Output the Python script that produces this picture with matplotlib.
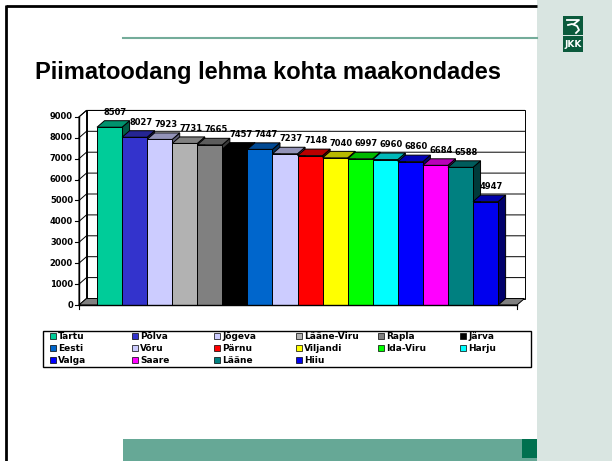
import matplotlib
matplotlib.use("Agg")
import matplotlib.pyplot as plt
from matplotlib.patches import Polygon, Rectangle
import matplotlib.colors as mcolors

# data
counties = ["Tartu", "Põlva", "Jõgeva", "Lääne-Viru", "Rapla", "Järva",
            "Eesti", "Võru", "Pärnu", "Viljandi", "Ida-Viru", "Harju",
            "Valga", "Saare", "Lääne", "Hiiu"]
milk_yield = [8507, 8027, 7923, 7731, 7665, 7457, 7447, 7237,
              7148, 7040, 6997, 6960, 6860, 6684, 6588, 4947]
bar_colors = ["#00CC99", "#3333CC", "#CCCCFF", "#B2B2B2", "#808080", "#000000",
              "#0066CC", "#CCCCFF", "#FF0000", "#FFFF00", "#00FF00", "#00FFFF",
              "#0000FF", "#FF00FF", "#008080", "#0000EE"]
y_ticks = [0, 1000, 2000, 3000, 4000, 5000, 6000, 7000, 8000, 9000]
title = "Piimatoodang lehma kohta maakondades"

W, H = 612, 461
fig = plt.figure(figsize=(W / 100, H / 100), dpi=100)

# slide background, pixel coordinates
bg = fig.add_axes([0, 0, 1, 1])
bg.set_xlim(0, W)
bg.set_ylim(H, 0)
bg.axis("off")

bg.add_patch(Rectangle((537, 0), W - 537, H, color="#D9E5E1", lw=0))
bg.plot([6, 537], [6, 6], color="black", lw=2.0, solid_capstyle="butt")
bg.plot([6, 6], [5, H], color="black", lw=2.0, solid_capstyle="butt")
bg.plot([123, 537], [38, 38], color="#74AC9A", lw=1.5)
bg.text(35, 73, title, fontsize=17, fontweight="bold",
        family="Liberation Sans", ha="left", va="center")
bg.add_patch(Rectangle((123, 439), 414, H - 439, color="#66A896", lw=0))
bg.add_patch(Rectangle((522, 439), 15, 19, color="#00704F", lw=0))

# logo
bg.add_patch(Rectangle((563, 16), 20, 19, color="#0B5A3C", lw=0))
bg.add_patch(Rectangle((563, 36), 20, 16, color="#0B5A3C", lw=0))
bg.plot([567, 579, 574], [20, 20, 24], color="white", lw=1.3)
bg.plot([568, 572, 577, 579, 576], [25, 24, 26, 30, 33], color="white", lw=1.3)
bg.text(573, 44.5, "JKK", color="white", fontsize=6.5, fontweight="bold",
        ha="center", va="center")

# legend box
bg.add_patch(Rectangle((43, 331), 488, 36, facecolor="white",
                       edgecolor="black", lw=1.0))
for i, name in enumerate(counties):
    col, row = i % 6, i // 6
    mx = 50 + col * 82
    my = 336 + row * 12
    bg.add_patch(Rectangle((mx, my - 3), 6, 6, facecolor=bar_colors[i],
                           edgecolor="black", lw=0.5))
    bg.text(mx + 8, my, name, fontsize=6.5, fontweight="bold",
            ha="left", va="center")

# chart axes with pixel scale
px_x = 25.07          # px per bar
px_y = 0.0209         # px per unit
x_origin, y_origin = 97, 305
left_px, right_px, top_px, bot_px = 40, 540, 95, 318
ax = fig.add_axes([left_px / W, 1 - bot_px / H,
                   (right_px - left_px) / W, (bot_px - top_px) / H])
ax.set_xlim((left_px - x_origin) / px_x, (right_px - x_origin) / px_x)
ax.set_ylim(-(bot_px - y_origin) / px_y, (y_origin - top_px) / px_y)
ax.axis("off")
ax.patch.set_alpha(0)

dx = 7.5 / px_x
dy = 6.5 / px_y
x0 = (79 - x_origin) / px_x
x1 = (517 - x_origin) / px_x
ymax = y_ticks[-1]
edge = dict(edgecolor="black", lw=0.7)

ax.add_patch(Polygon([(x0 + dx, dy), (x1 + dx, dy), (x1 + dx, ymax + dy),
                      (x0 + dx, ymax + dy)], facecolor="white", zorder=0.5, **edge))
ax.add_patch(Polygon([(x0, 0), (x0 + dx, dy), (x0 + dx, ymax + dy),
                      (x0, ymax)], facecolor="white", zorder=0.5, **edge))
for v in y_ticks[1:]:
    ax.plot([x0, x0 + dx, x1 + dx], [v, v + dy, v + dy], color="black",
            lw=0.7, zorder=0.6)
ax.add_patch(Polygon([(x0, 0), (x1, 0), (x1 + dx, dy), (x0 + dx, dy)],
                     facecolor="#808080", zorder=0.7, **edge))
ax.plot([x0, x0], [0, ymax], color="black", lw=1.0, zorder=3)
ax.plot([x0, x1], [0, 0], color="black", lw=1.0, zorder=3)
tick_len = 4 / px_x
for v in y_ticks:
    ax.plot([x0 - tick_len, x0], [v, v], color="black", lw=0.8, zorder=3)
    ax.text(x0 - 6 / px_x, v, str(v), fontsize=6, fontweight="bold",
            ha="right", va="center")
for xt in (x0, x1):
    ax.plot([xt, xt], [0, -4 / px_y], color="black", lw=0.8, zorder=3)

for i, (v, c) in enumerate(zip(milk_yield, bar_colors)):
    rgb = mcolors.to_rgb(c)
    top_c = tuple(ch * 0.72 for ch in rgb)
    side_c = tuple(ch * 0.45 for ch in rgb)
    z = 2 + i * 0.01
    ax.add_patch(Polygon([(i + 1, 0), (i + 1 + dx, dy), (i + 1 + dx, v + dy),
                          (i + 1, v)], facecolor=side_c, zorder=z, **edge))
    ax.add_patch(Polygon([(i, v), (i + 1, v), (i + 1 + dx, v + dy),
                          (i + dx, v + dy)], facecolor=top_c, zorder=z + 0.001, **edge))
    ax.add_patch(Rectangle((i, 0), 1, v, facecolor=c, zorder=z + 0.002, **edge))
    ax.text(i + 0.5 + 6 / px_x, v + dy + 400, str(v), fontsize=6,
            fontweight="bold", ha="center", va="center", zorder=4)

fig.savefig("out.png", dpi=100)
